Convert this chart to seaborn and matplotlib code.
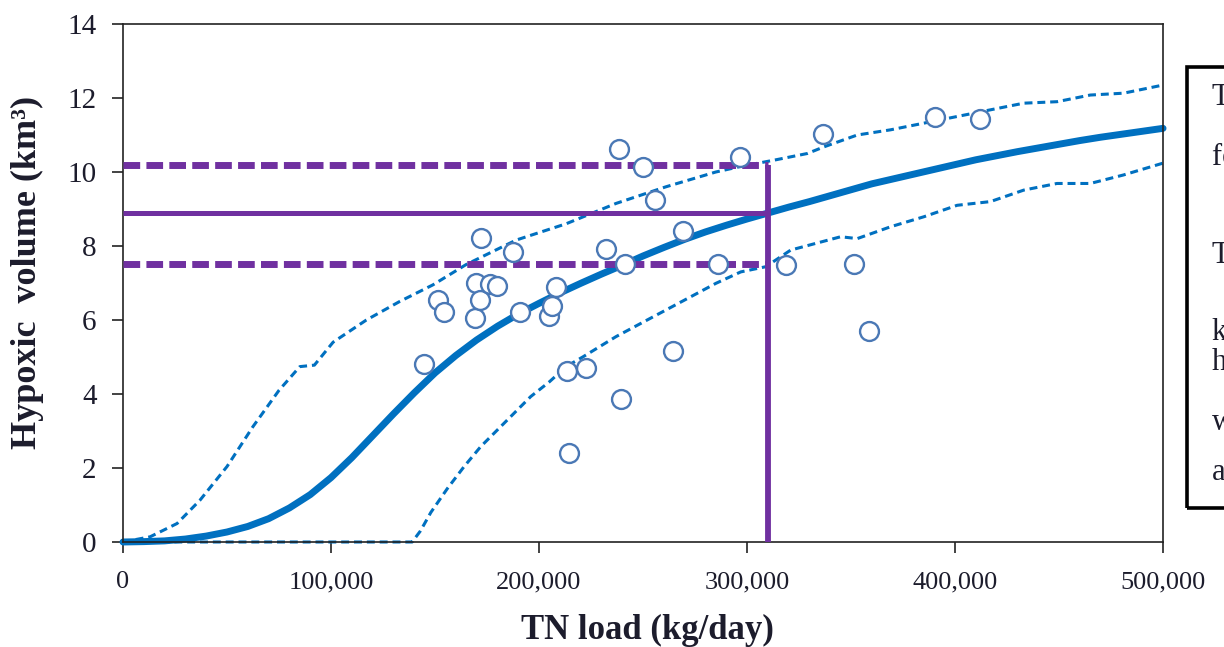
import matplotlib
matplotlib.use('Agg')
import matplotlib.pyplot as plt
import matplotlib.patches as mpatches
from matplotlib.ticker import FuncFormatter, MultipleLocator
import seaborn as sns

# observed years: TN load (kg/day) vs hypoxic volume (km3)
obs_load = [144700, 151400, 154300, 169200, 169700, 171600, 172100, 176400,
            179800, 187500, 190900, 204800, 206300, 208200, 213500, 214400,
            222600, 232200, 238500, 239400, 241300, 250000, 255800, 264400,
            269200, 286000, 296600, 318800, 336500, 351400, 358700, 390400,
            412000]
obs_volume = [4.81, 6.54, 6.22, 6.05, 7.00, 6.54, 8.22, 6.97,
              6.92, 7.84, 6.22, 6.11, 6.38, 6.89, 4.62, 2.41,
              4.70, 7.92, 10.62, 3.86, 7.51, 10.14, 9.24, 5.16,
              8.41, 7.51, 10.41, 7.49, 11.03, 7.51, 5.70, 11.49,
              11.43]

# fitted response curve, read every 10,000 kg/day
fit_load = [0, 10000, 20000, 30000, 40000, 50000, 60000, 70000, 80000, 90000,
            100000, 110000, 120000, 130000, 140000, 150000, 160000, 170000,
            180000, 190000, 200000, 210000, 220000, 230000, 240000, 250000,
            260000, 270000, 280000, 290000, 300000, 310000, 320000, 330000,
            340000, 350000, 360000, 370000, 380000, 390000, 400000, 410000,
            420000, 430000, 440000, 450000, 460000, 470000, 480000, 490000,
            500000]
fit_volume = [0.0, 0.01, 0.03, 0.08, 0.16, 0.27, 0.42, 0.63, 0.92, 1.28,
              1.74, 2.28, 2.87, 3.46, 4.03, 4.57, 5.04, 5.46,
              5.83, 6.16, 6.45, 6.73, 6.99, 7.24, 7.48, 7.73,
              7.96, 8.18, 8.38, 8.56, 8.73, 8.89, 9.05, 9.2,
              9.36, 9.52, 9.68, 9.81, 9.94, 10.07, 10.2, 10.33,
              10.44, 10.55, 10.65, 10.75, 10.85, 10.94, 11.02, 11.1,
              11.18]

# upper predictive bound
upper_load = [0, 13000, 26000, 37000, 50000, 62500, 75000, 85000, 92000,
              101000, 117000, 133000, 149000, 165000, 189000, 213000, 237000,
              261000, 285000, 297000, 313000, 329000, 337000, 353000, 369000,
              385000, 401000, 417000, 433000, 449000, 465000, 481000, 500000]
upper_volume = [0.0, 0.14, 0.5, 1.13, 2.04, 3.12, 4.1, 4.74, 4.78,
                5.4, 6.0, 6.5, 6.95, 7.5, 8.16, 8.6, 9.15,
                9.6, 10.0, 10.15, 10.32, 10.5, 10.68, 11.0, 11.14,
                11.32, 11.5, 11.68, 11.86, 11.9, 12.08, 12.13, 12.35]

# lower predictive bound
lower_load = [0, 139000, 143000, 148000, 156000, 164000, 172000, 180000,
              188000, 196000, 205000, 213000, 221000, 237000, 261000, 285000,
              297000, 309000, 321000, 345000, 353000, 369000, 385000, 401000,
              417000, 433000, 449000, 465000, 481000, 500000]
lower_volume = [0.0, 0.0, 0.3, 0.8, 1.45, 2.04, 2.58, 3.03,
                3.48, 3.93, 4.33, 4.74, 5.0, 5.55, 6.27, 6.99,
                7.3, 7.44, 7.89, 8.25, 8.2, 8.52, 8.79, 9.1,
                9.2, 9.51, 9.69, 9.69, 9.92, 10.24]

# target load and the volume it gives (with its bounds)
target_load = 310000
target_volume = 8.9
target_low = 7.5
target_high = 10.2

box_lines = ["The target hypoxic volume",
             "for the summer",
             "The TN load that",
             "keeps the average",
             "hypoxic volume",
             "within the target",
             "at the 95% level"]

blue = '#0070C0'
purple = '#7030A0'
dot_edge = '#4A78B5'
ink = '#1c1c2c'

sns.set_theme(style='ticks')
plt.rcParams['font.family'] = ['Liberation Serif', 'DejaVu Serif']

fig = plt.figure(figsize=(12.24, 6.47), dpi=100)
ax = fig.add_axes([0.1005, 0.1623, 0.8497, 0.8006])

sns.lineplot(x=fit_load, y=fit_volume, ax=ax, color=blue, lw=5,
             sort=False, estimator=None, clip_on=False, zorder=2)
sns.lineplot(x=upper_load, y=upper_volume, ax=ax, color=blue, lw=2.2,
             linestyle=(0, (2.6, 1.6)), sort=False, estimator=None,
             clip_on=False, zorder=2)
sns.lineplot(x=lower_load, y=lower_volume, ax=ax, color=blue, lw=2.2,
             linestyle=(0, (2.6, 1.6)), sort=False, estimator=None,
             clip_on=False, zorder=2)

# purple target lines
ax.plot([0, target_load], [target_volume, target_volume], color=purple,
        lw=3.6, solid_capstyle='butt', clip_on=False, zorder=3)
for yv in (target_low, target_high):
    ax.plot([0, target_load], [yv, yv], color=purple, lw=5,
            linestyle=(0, (2.4, 0.9)), clip_on=False, zorder=3)
ax.plot([target_load, target_load], [0, target_high], color=purple,
        lw=4.2, solid_capstyle='butt', clip_on=False, zorder=3)

sns.scatterplot(x=obs_load, y=obs_volume, ax=ax, s=185, color='white',
                edgecolor=dot_edge, linewidth=1.7, zorder=5, clip_on=False)

ax.set_xlim(0, 500000)
ax.set_ylim(0, 14)
ax.xaxis.set_major_locator(MultipleLocator(100000))
ax.yaxis.set_major_locator(MultipleLocator(2))
ax.xaxis.set_major_formatter(FuncFormatter(lambda v, p: f'{int(v):,}'))

for side in ['left', 'bottom', 'right', 'top']:
    ax.spines[side].set_visible(True)
    ax.spines[side].set_color('#222222')
    ax.spines[side].set_linewidth(1.2)
ax.tick_params(axis='both', direction='out', length=8, width=1.2,
               color='#222222', labelcolor=ink)
ax.tick_params(axis='x', pad=13, labelsize=19)
ax.tick_params(axis='y', pad=11, labelsize=21)
ax.tick_params(top=False, right=False)

ax.set_xlabel('TN load (kg/day)', fontsize=25, fontweight='bold', color=ink)
ax.set_ylabel('Hypoxic  volume (km³)', fontsize=26, fontweight='bold', color=ink)
ax.xaxis.set_label_coords(0.504, -0.17)
ax.xaxis.label.set_va('center')
ax.yaxis.set_label_coords(-0.0923, 0.521)
ax.yaxis.label.set_va('center')

# text box at the right edge, cut by the figure border
fig.patches.append(mpatches.Rectangle((1187 / 1224, 1 - 508 / 647), 0.2, 441 / 647,
                                      transform=fig.transFigure, fill=False,
                                      edgecolor='black', lw=2.6))
baselines = [105, 165, 263, 340, 370, 430, 480]
for txt, yb in zip(box_lines, baselines):
    fig.text(1212 / 1224, 1 - yb / 647, txt, fontsize=22, color=ink,
             va='baseline', ha='left')

fig.savefig('out.png', dpi=100)
